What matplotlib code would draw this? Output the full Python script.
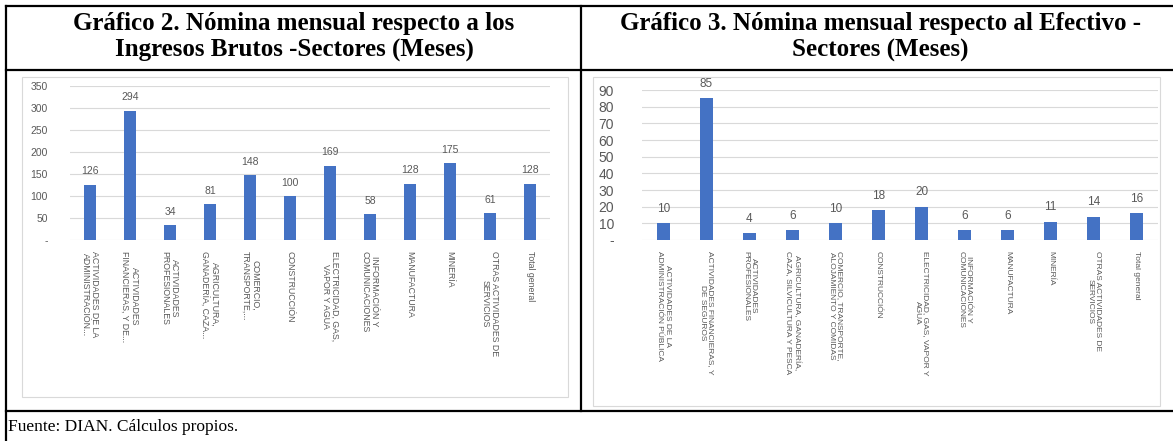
import matplotlib.pyplot as plt
from matplotlib.ticker import FuncFormatter

W, H = 1173, 441

# datos
sectores_ing = [
    "ACTIVIDADES DE LA\nADMINISTRACIÓN...",
    "ACTIVIDADES\nFINANCIERAS, Y DE...",
    "ACTIVIDADES\nPROFESIONALES",
    "AGRICULTURA,\nGANADERÍA, CAZA...",
    "COMERCIO,\nTRANSPORTE,...",
    "CONSTRUCCIÓN",
    "ELECTRICIDAD, GAS,\nVAPOR Y AGUA",
    "INFORMACIÓN Y\nCOMUNICACIONES",
    "MANUFACTURA",
    "MINERÍA",
    "OTRAS ACTIVIDADES DE\nSERVICIOS",
    "Total general",
]
nomina_ingresos = [126, 294, 34, 81, 148, 100, 169, 58, 128, 175, 61, 128]

sectores_ef = [
    "ACTIVIDADES DE LA\nADMINISTRACIÓN PÚBLICA",
    "ACTIVIDADES FINANCIERAS, Y\nDE SEGUROS",
    "ACTIVIDADES\nPROFESIONALES",
    "AGRICULTURA, GANADERÍA,\nCAZA, SILVICULTURA Y PESCA",
    "COMERCIO, TRANSPORTE,\nALOJAMIENTO Y COMIDAS",
    "CONSTRUCCIÓN",
    "ELECTRICIDAD, GAS, VAPOR Y\nAGUA",
    "INFORMACIÓN Y\nCOMUNICACIONES",
    "MANUFACTURA",
    "MINERÍA",
    "OTRAS ACTIVIDADES DE\nSERVICIOS",
    "Total general",
]
nomina_efectivo = [10, 85, 4, 6, 10, 18, 20, 6, 6, 11, 14, 16]

titulo_izq = "Gráfico 2. Nómina mensual respecto a los\nIngresos Brutos -Sectores (Meses)"
titulo_der = "Gráfico 3. Nómina mensual respecto al Efectivo -\nSectores (Meses)"
fuente = "Fuente: DIAN. Cálculos propios."

AZUL = "#4472C4"
GRIS = "#595959"


def px_box(x0, y0, x1, y1):
    # pixel box (top-left origin) -> figure fraction
    return [x0 / W, 1 - y1 / H, (x1 - x0) / W, (y1 - y0) / H]


fig = plt.figure(figsize=(W / 100, H / 100), dpi=100)
fig.patch.set_facecolor("white")

# marco de la tabla
bg = fig.add_axes([0, 0, 1, 1], zorder=0)
bg.set_xlim(0, W)
bg.set_ylim(H, 0)
bg.axis("off")
lw = 1.6
bg.plot([6, W], [6, 6], color="black", lw=lw)
bg.plot([6, W], [70, 70], color="black", lw=lw)
bg.plot([6, W], [411, 411], color="black", lw=lw)
bg.plot([6, 6], [6, H], color="black", lw=lw)
bg.plot([581, 581], [6, 411], color="black", lw=lw)
# bordes de los graficos excel
bg.add_patch(plt.Rectangle((22, 77), 546, 320, fill=False, ec="#d9d9d9", lw=0.8))
bg.add_patch(plt.Rectangle((593, 77), 567, 329, fill=False, ec="#d9d9d9", lw=0.8))

bg.text(294, 37, titulo_izq, ha="center", va="center", family="Liberation Serif",
        weight="bold", fontsize=18, linespacing=1.2)
bg.text(880, 37, titulo_der, ha="center", va="center", family="Liberation Serif",
        weight="bold", fontsize=18, linespacing=1.2)
bg.text(8, 427, fuente, ha="left", va="center", family="Liberation Serif", fontsize=12.5)


def barras(box, valores, etiquetas, ymax, paso, ancho, fs_tick, fs_lab, fs_val, pad_y):
    ax = fig.add_axes(px_box(*box), zorder=2)
    ax.patch.set_alpha(0)
    x = range(len(valores))
    ax.bar(x, valores, width=ancho, color=AZUL, zorder=3)
    for xi, v in zip(x, valores):
        ax.annotate(str(v), (xi, v), xytext=(0, 6), textcoords="offset points",
                    ha="center", va="bottom", fontsize=fs_val, color=GRIS,
                    family="Liberation Sans")
    ax.set_xlim(-0.5, len(valores) - 0.5)
    ax.set_ylim(0, ymax)
    ax.set_yticks(range(0, ymax + 1, paso))
    ax.yaxis.set_major_formatter(FuncFormatter(lambda v, p: "-" if v == 0 else f"{v:.0f}"))
    ax.grid(axis="y", color="#d9d9d9", lw=0.8, zorder=0)
    for s in ax.spines.values():
        s.set_visible(False)
    ax.tick_params(axis="both", length=0, colors=GRIS)
    ax.tick_params(axis="y", labelsize=fs_tick, pad=pad_y)
    ax.set_xticks(list(x))
    ax.set_xticklabels(etiquetas, rotation=-90, ha="center", va="top",
                       fontsize=fs_lab, family="Liberation Sans", linespacing=1.1)
    for t in ax.get_yticklabels():
        t.set_family("Liberation Sans")
    ax.tick_params(axis="x", pad=8)
    return ax


barras((70, 86, 550, 240), nomina_ingresos, sectores_ing, 350, 50, 0.3, 7.5, 6.3, 7.5, 16)
barras((642, 90, 1158, 240), nomina_efectivo, sectores_ef, 90, 10, 0.3, 10, 6.0, 8.5, 20)

fig.savefig("out.png", dpi=100, facecolor="white")
